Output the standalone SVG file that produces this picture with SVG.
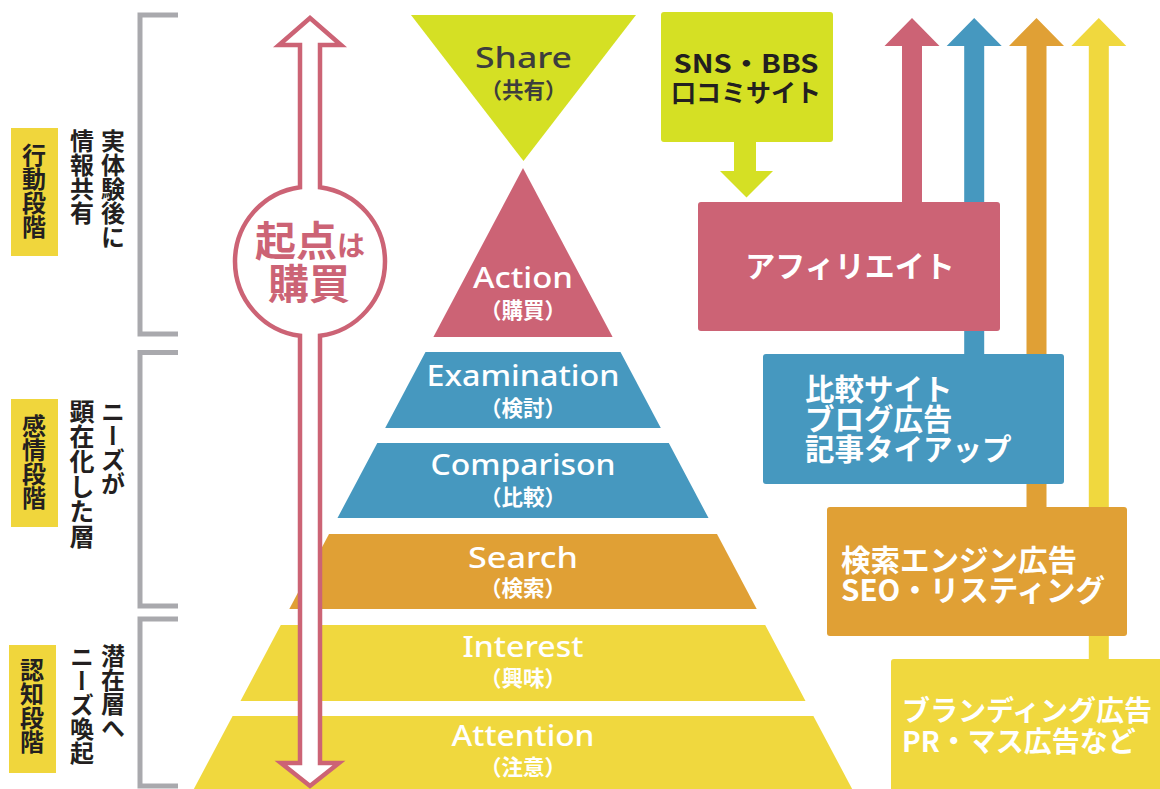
<svg xmlns="http://www.w3.org/2000/svg" width="1160" height="789" viewBox="0 0 1160 789">
<style>
.jp{font-family:"Noto Sans CJK JP","Noto Sans",sans-serif;font-weight:bold;}
.en{font-family:"Noto Sans","Liberation Sans","Noto Sans CJK JP",sans-serif;font-weight:500;}
.w{fill:#ffffff;}
.dk{fill:#231f20;}
.vt{writing-mode:vertical-rl;font-family:"Noto Sans CJK JP",sans-serif;font-weight:bold;fill:#231f20;}
.br{fill:none;stroke:#a9a9ad;stroke-width:5;}
.lab{fill:#f0d63c;}
.pink{fill:#cc6375;}
.blue{fill:#4698bf;}
.orange{fill:#e0a035;}
.yellow{fill:#f0d83e;}
.lime{fill:#d5e024;}
.sub{font-size:21.5px;}
</style>

<g id="brackets">
<polyline class="br" points="178,15 140,15 140,334 178,334"/>
<polyline class="br" points="178,352.5 140,352.5 140,606 178,606"/>
<polyline class="br" points="178,619 140,619 140,786 178,786"/>
</g>

<g id="stage-action">
<rect class="lab" x="11" y="128" width="47" height="128"/>
<text class="vt" x="34" y="143" font-size="24">行動段階</text>
<text class="vt" x="113" y="129" font-size="24">実体験後に</text>
<text class="vt" x="82" y="129" font-size="24">情報共有</text>
</g>
<g id="stage-emotion">
<rect class="lab" x="11" y="399" width="47" height="128"/>
<text class="vt" x="34" y="414" font-size="24">感情段階</text>
<text class="vt" x="113" y="400" font-size="24">ニーズが</text>
<text class="vt" x="82" y="399" font-size="25">顕在化した層</text>
</g>
<g id="stage-cognition">
<rect class="lab" x="9" y="645" width="47" height="128"/>
<text class="vt" x="32" y="658" font-size="24">認知段階</text>
<text class="vt" x="113" y="644" font-size="24">潜在層へ</text>
<text class="vt" x="82" y="645" font-size="24">ニーズ喚起</text>
</g>

<g id="share">
<polygon class="lime" points="411,15 636,15 523.5,161"/>
<text class="en" x="523.5" y="68" font-size="29" fill="#3d3d3d" text-anchor="middle" textLength="97" lengthAdjust="spacingAndGlyphs">Share</text>
<text class="jp sub" x="523.5" y="98" fill="#3d3d3d" text-anchor="middle">（共有）</text>
</g>
<g id="action">
<polygon class="pink" points="523,168 612.6,337 433.4,337"/>
<text class="en w" x="523" y="288" font-size="28" text-anchor="middle" textLength="100" lengthAdjust="spacingAndGlyphs">Action</text>
<text class="jp w sub" x="523" y="318" text-anchor="middle">（購買）</text>
</g>
<g id="examination">
<polygon class="blue" points="425.5,352 620.5,352 660.8,428 385.2,428"/>
<text class="en w" x="523" y="386" font-size="29" text-anchor="middle" textLength="193" lengthAdjust="spacingAndGlyphs">Examination</text>
<text class="jp w sub" x="523" y="416" text-anchor="middle">（検討）</text>
</g>
<g id="comparison">
<polygon class="blue" points="377.3,443 668.8,443 708.5,518 337.5,518"/>
<text class="en w" x="523" y="475" font-size="29" text-anchor="middle" textLength="185" lengthAdjust="spacingAndGlyphs">Comparison</text>
<text class="jp w sub" x="523" y="505" text-anchor="middle">（比較）</text>
</g>
<g id="search">
<polygon class="orange" points="329,534 717,534 756.7,609 289.3,609"/>
<text class="en w" x="523" y="568" font-size="29" text-anchor="middle" textLength="110" lengthAdjust="spacingAndGlyphs">Search</text>
<text class="jp w sub" x="523" y="596" text-anchor="middle">（検索）</text>
</g>
<g id="interest">
<polygon class="yellow" points="280.8,625 765.2,625 805.5,701 240.5,701"/>
<text class="en w" x="523" y="657" font-size="29" text-anchor="middle" textLength="121" lengthAdjust="spacingAndGlyphs">Interest</text>
<text class="jp w sub" x="523" y="686" text-anchor="middle">（興味）</text>
</g>
<g id="attention">
<polygon class="yellow" points="232.6,716 813.4,716 858,800 188,800"/>
<text class="en w" x="523" y="746" font-size="29" text-anchor="middle" textLength="143" lengthAdjust="spacingAndGlyphs">Attention</text>
<text class="jp w sub" x="523" y="775" text-anchor="middle">（注意）</text>
</g>

<g id="start-purchase">
<path d="M310,18 L341,45 L320,45 L320,187.17 A75,75 0 0 1 320,335.83 L320,763 L339,763 L310,786 L281,763 L300,763 L300,335.83 A75,75 0 0 1 300,187.17 L300,45 L279,45 Z" fill="#ffffff" stroke="#cc6375" stroke-width="4.5" stroke-linejoin="miter"/>
<text class="jp" x="310" y="256" fill="#cc6375" text-anchor="middle"><tspan font-size="41">起点</tspan><tspan font-size="28">は</tspan></text>
<text class="jp" x="309" y="299" font-size="41" fill="#cc6375" text-anchor="middle">購買</text>
</g>

<g id="connectors">
<polygon class="pink" points="902,205 902,46 884.5,46 912,18 939.5,46 922,46 922,205"/>
<polygon class="blue" points="964.2,357 964.2,46 946.7,46 974.2,18 1001.7,46 984.2,46 984.2,357"/>
<polygon class="orange" points="1026.5,510 1026.5,46 1009,46 1036.5,18 1064,46 1046.5,46 1046.5,510"/>
<polygon class="yellow" points="1088.8,662 1088.8,46 1071.3,46 1098.8,18 1126.3,46 1108.8,46 1108.8,662"/>
<polygon class="lime" points="734,138 756,138 756,171 773,171 746.5,197.5 720,171 734,171"/>
</g>

<g id="sns">
<rect class="lime" x="661" y="12" width="172" height="130" rx="3"/>
<text class="jp dk" x="746" y="73" font-size="26" text-anchor="middle" textLength="145" lengthAdjust="spacingAndGlyphs">SNS・BBS</text>
<text class="jp dk" x="746" y="102" font-size="25" text-anchor="middle">口コミサイト</text>
</g>
<g id="affiliate">
<rect class="pink" x="698" y="202" width="302" height="129" rx="3"/>
<text class="jp w" x="850" y="277" font-size="30" text-anchor="middle">アフィリエイト</text>
</g>
<g id="comparison-media">
<rect class="blue" x="763" y="354" width="301" height="130" rx="3"/>
<text class="jp w" x="805" y="400" font-size="29.5">比較サイト</text>
<text class="jp w" x="805" y="430" font-size="29.5">ブログ広告</text>
<text class="jp w" x="805" y="460" font-size="29.5">記事タイアップ</text>
</g>
<g id="search-ads">
<rect class="orange" x="827" y="507" width="300" height="129" rx="3"/>
<text class="jp w" x="841" y="571" font-size="29.5">検索エンジン広告</text>
<text class="jp w" x="841" y="601" font-size="29.5">SEO・リスティング</text>
</g>
<g id="branding">
<rect class="yellow" x="891" y="659" width="280" height="140" rx="3"/>
<text class="jp w" x="902" y="721" font-size="28">ブランディング広告</text>
<text class="jp w" x="902" y="752" font-size="28">PR・マス広告など</text>
</g>
</svg>
